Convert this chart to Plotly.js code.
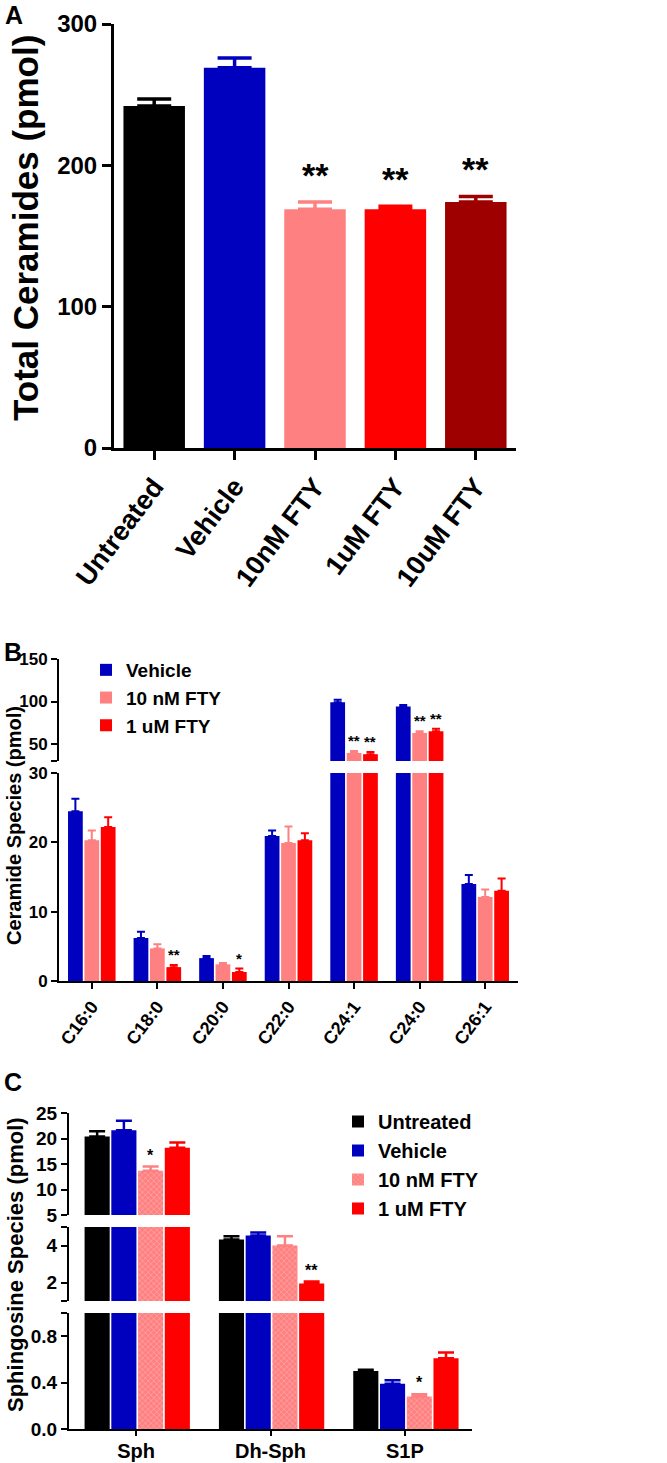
<!DOCTYPE html>
<html><head><meta charset="utf-8">
<script src="https://cdn.plot.ly/plotly-3.0.1.min.js"></script>
<style>html,body{margin:0;padding:0;background:#fff}#chart{width:667px;height:1463px}</style>
</head><body><div id="chart"></div>
<script>
// ---------- Panel A data ----------
const groupsA = ['Untreated', 'Vehicle', '10nM FTY', '1uM FTY', '10uM FTY'];
const totalA = [242, 269, 169, 169, 174];
const errA = [5, 7, 5, 2, 4];
const sigA = ['', '', '**', '**', '**'];

// ---------- Panel B data ----------
const speciesB = ['C16:0', 'C18:0', 'C20:0', 'C22:0', 'C24:1', 'C24:0', 'C26:1'];
const namesB = ['Vehicle', '10 nM FTY', '1 uM FTY'];
const vehB = [24.5, 6.2, 3.3, 20.9, 99, 94, 14.0];
const errVehB = [1.8, 0.9, 0.3, 0.8, 3, 2, 1.3];
const nm10B = [20.3, 4.7, 2.4, 19.9, 39.5, 63, 12.1];
const errNm10B = [1.4, 0.6, 0.2, 2.4, 2.3, 2, 1.1];
const um1B = [22.2, 2.0, 1.3, 20.3, 38, 65, 13.0];
const errUm1B = [1.4, 0.3, 0.5, 1.0, 2.6, 3, 1.8];
const sigVehB = ['', '', '', '', '', '', ''];
const sigNm10B = ['', '', '', '', '**', '**', ''];
const sigUm1B = ['', '**', '*', '', '**', '**', ''];

// ---------- Panel C data ----------
const speciesC = ['Sph', 'Dh-Sph', 'S1P'];
const namesC = ['Untreated', 'Vehicle', '10 nM FTY', '1 uM FTY'];
const untC = [20.4, 4.32, 0.50];
const errUntC = [1.0, 0.18, 0.01];
const vehC = [21.6, 4.54, 0.39];
const errVehC = [1.9, 0.16, 0.03];
const nm10C = [13.7, 4.0, 0.28];
const errNm10C = [0.8, 0.5, 0.02];
const um1C = [18.2, 1.95, 0.61];
const errUm1C = [1.0, 0.1, 0.05];
const sigUntC = ['', '', ''];
const sigVehC = ['', '', ''];
const sigNm10C = ['*', '', '*'];
const sigUm1C = ['', '**', ''];

// ---------- styling ----------
const W = 667, H = 1463;
const FAM = 'Liberation Sans, Arial, sans-serif';
const colorsA = ['#000000', '#0000bf', '#ff8080', '#ff0000', '#9e0000'];
const colorsB = ['#0000bf', '#ff8080', '#ff0000'];
const colorsC = ['#000000', '#0000bf', '#ff8080', '#ff0000'];
const dx = (a, b) => [a / W, b / W];
const dy = (top, bot) => [1 - bot / H, 1 - top / H];
const zeros = n => new Array(n).fill(0);
const font = (s) => ({family: FAM, size: s, color: '#000', weight: 'bold'});

const traces = [];
const annotations = [];

// ---- Panel A ----
const widthA = 0.765;
groupsA.forEach((g, i) => {
  traces.push({
    type: 'bar', x: [g], y: [totalA[i]], xaxis: 'x', yaxis: 'y',
    width: widthA, marker: {color: colorsA[i]}, showlegend: false, hoverinfo: 'x+y',
    error_y: {type: 'data', symmetric: false, array: [errA[i]], arrayminus: [0],
              color: colorsA[i], thickness: 3.5, width: 17}
  });
  if (sigA[i]) annotations.push({xref: 'x', yref: 'y', x: i, y: totalA[i] + errA[i],
    yanchor: 'bottom', yshift: 6, text: sigA[i], showarrow: false, font: font(34)});
});

// ---- Panel B (two y segments) ----
const seriesB = [[vehB, errVehB, sigVehB], [nm10B, errNm10B, sigNm10B], [um1B, errUm1B, sigUm1B]];
const slotB = 0.25, barWB = 0.225, startB = -0.375;
const segB = [{ax: 'y2', lo: 0, hi: 30}, {ax: 'y3', lo: 30, hi: 150}];
seriesB.forEach((s, k) => {
  const off = startB + k * slotB + (slotB - barWB) / 2;
  segB.forEach((seg, j) => {
    traces.push({
      type: 'bar', name: namesB[k], x: speciesB, y: s[0], xaxis: 'x2', yaxis: seg.ax,
      width: barWB, offset: off, marker: {color: colorsB[k]},
      showlegend: j === 0, legend: 'legend', hoverinfo: 'x+y',
      error_y: {type: 'data', symmetric: false, array: s[1], arrayminus: zeros(s[1].length),
                color: colorsB[k], thickness: 2, width: 4}
    });
  });
  s[2].forEach((t, i) => {
    if (!t) return;
    const top = s[0][i] + s[1][i];
    const seg = segB.find(g => top >= g.lo && top <= g.hi);
    annotations.push({xref: 'x2', yref: seg.ax, x: i + off + barWB / 2, y: top,
      yanchor: 'bottom', yshift: 0, text: t, showarrow: false, font: font(15)});
  });
});

// ---- Panel C (three y segments) ----
const seriesC = [[untC, errUntC, sigUntC], [vehC, errVehC, sigVehC], [nm10C, errNm10C, sigNm10C], [um1C, errUm1C, sigUm1C]];
const slotC = 0.199, barWC = 0.187, startC = -0.39;
const segC = [{ax: 'y4', lo: 0, hi: 1}, {ax: 'y5', lo: 1, hi: 5}, {ax: 'y6', lo: 5, hi: 25}];
seriesC.forEach((s, k) => {
  const off = startC + k * slotC + (slotC - barWC) / 2;
  const marker = {color: colorsC[k]};
  if (k === 2) marker.pattern = {shape: 'x', fillmode: 'overlay', fgcolor: '#ffc4c4', size: 4, solidity: 0.35};
  segC.forEach((seg, j) => {
    traces.push({
      type: 'bar', name: namesC[k], x: speciesC, y: s[0], xaxis: 'x3', yaxis: seg.ax,
      width: barWC, offset: off, marker: marker,
      showlegend: j === 0, legend: 'legend2', hoverinfo: 'x+y',
      error_y: {type: 'data', symmetric: false, array: s[1], arrayminus: zeros(s[1].length),
                color: colorsC[k], thickness: 2.5, width: 8}
    });
  });
  s[2].forEach((t, i) => {
    if (!t) return;
    const top = s[0][i] + s[1][i];
    const seg = segC.find(g => top >= g.lo && top <= g.hi);
    annotations.push({xref: 'x3', yref: seg.ax, x: i + off + barWC / 2, y: top,
      yanchor: 'bottom', yshift: 1, text: t, showarrow: false, font: font(16)});
  });
});

// ---- titles / panel letters ----
annotations.push(
  {xref: 'paper', yref: 'paper', x: 25 / W, y: 1 - 228 / H, text: 'Total Ceramides (pmol)', textangle: -90,
   showarrow: false, font: font(35), xanchor: 'center', yanchor: 'middle'},
  {xref: 'paper', yref: 'paper', x: 14 / W, y: 1 - 826 / H, text: 'Ceramide Species (pmol)', textangle: -90,
   showarrow: false, font: font(20), xanchor: 'center', yanchor: 'middle'},
  {xref: 'paper', yref: 'paper', x: 15 / W, y: 1 - 1265 / H, text: 'Sphingosine Species (pmol)', textangle: -90,
   showarrow: false, font: font(22), xanchor: 'center', yanchor: 'middle'},
  {xref: 'paper', yref: 'paper', x: 3 / W, y: 1 - 15 / H, text: 'A', showarrow: false, font: font(25), xanchor: 'left', yanchor: 'middle'},
  {xref: 'paper', yref: 'paper', x: 2 / W, y: 1 - 652 / H, text: 'B', showarrow: false, font: font(25), xanchor: 'left', yanchor: 'middle'},
  {xref: 'paper', yref: 'paper', x: 2 / W, y: 1 - 1082 / H, text: 'C', showarrow: false, font: font(25), xanchor: 'left', yanchor: 'middle'}
);

function yax(domain, range, tickvals, ticktext, fs, lw, tl, anchor) {
  return {domain: domain, range: range, tickvals: tickvals, ticktext: ticktext, anchor: anchor,
    showline: true, linecolor: '#000', linewidth: lw, ticks: 'outside', ticklen: tl, tickwidth: lw,
    tickcolor: '#000', showgrid: false, zeroline: false, tickfont: font(fs), fixedrange: true};
}
function xax(domain, anchor, fs, lw, tl, angle) {
  return {domain: domain, anchor: anchor, type: 'category', showline: true, linecolor: '#000', linewidth: lw,
    ticks: 'outside', ticklen: tl, tickwidth: lw, tickcolor: '#000', showgrid: false, zeroline: false,
    tickfont: font(fs), tickangle: angle, fixedrange: true};
}

const layout = {
  width: W, height: H, margin: {l: 0, r: 0, t: 0, b: 0},
  paper_bgcolor: '#fff', plot_bgcolor: 'rgba(0,0,0,0)',
  barmode: 'overlay', showlegend: true,
  font: {family: FAM, color: '#000'},
  // A
  xaxis: Object.assign(xax(dx(114, 516), 'y', 27, 3, 9, -53), {range: [-0.5, 4.5]}),
  yaxis: yax(dy(24, 448), [0, 300], [0, 100, 200, 300], ['0', '100', '200', '300'], 24, 3, 9, 'x'),
  // B
  xaxis2: Object.assign(xax(dx(59, 518), 'y2', 18, 2, 6, -53), {range: [-0.5, 6.5]}),
  yaxis2: yax(dy(773, 981), [0, 30], [0, 10, 20, 30], ['0', '10', '20', '30'], 17, 2, 6, 'x2'),
  yaxis3: yax(dy(659, 761), [30, 150], [30, 50, 100, 150], ['', '50', '100', '150'], 17, 2, 6, 'x2'),
  // C
  xaxis3: Object.assign(xax(dx(69, 472), 'y4', 20, 2, 5, 0), {range: [-0.5, 2.5], ticklabelstandoff: -2}),
  yaxis4: yax(dy(1313, 1429), [0, 1], [0, 0.4, 0.8, 1.0], ['0.0', '0.4', '0.8', ''], 19, 2, 6, 'x3'),
  yaxis5: yax(dy(1227, 1301), [1, 5], [1, 2, 4, 5], ['', '2', '4', ''], 19, 2, 6, 'x3'),
  yaxis6: yax(dy(1113, 1215), [5, 25], [5, 10, 15, 20, 25], ['5', '10', '15', '20', '25'], 19, 2, 6, 'x3'),
  legend: {x: 86 / W, y: 1 - 651 / H, xanchor: 'left', yanchor: 'top', font: font(19),
           bgcolor: 'rgba(0,0,0,0)', tracegroupgap: 0, itemwidth: 30, traceorder: 'normal'},
  legend2: {x: 338 / W, y: 1 - 1102 / H, xanchor: 'left', yanchor: 'top', font: font(20),
            bgcolor: 'rgba(0,0,0,0)', tracegroupgap: 0, itemwidth: 30, traceorder: 'normal'},
  annotations: annotations
};

Plotly.newPlot('chart', traces, layout, {staticPlot: true, displayModeBar: false});
</script>
</body></html>
